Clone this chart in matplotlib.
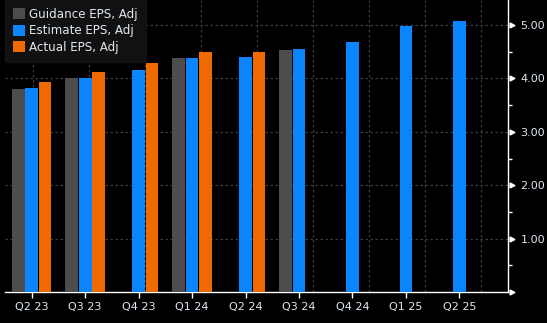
import numpy as np
import matplotlib
matplotlib.use("Agg")
import matplotlib.pyplot as plt

# quarters and EPS series
quarters = ["Q2 23", "Q3 23", "Q4 23", "Q1 24", "Q2 24", "Q3 24", "Q4 24", "Q1 25", "Q2 25"]
guidance = [3.80, 4.00, np.nan, 4.38, np.nan, 4.53, np.nan, np.nan, np.nan]
estimate = [3.82, 4.00, 4.15, 4.38, 4.40, 4.55, 4.68, 4.99, 5.08]
actual = [3.93, 4.12, 4.29, 4.50, 4.50, np.nan, np.nan, np.nan, np.nan]

c_guid = "#4d4d4d"
c_est = "#0a84ff"
c_act = "#f06a00"
txt = "#dfe8f2"

fig = plt.figure(figsize=(5.47, 3.23), dpi=100, facecolor="black")
ax = fig.add_axes([5 / 547, 31 / 323, 503 / 547, 292 / 323], facecolor="black")

x = np.arange(len(quarters))
w = 0.238
off = 0.25
ax.bar(x - off, guidance, width=w, color=c_guid, label="Guidance EPS, Adj", zorder=3)
ax.bar(x, estimate, width=w, color=c_est, label="Estimate EPS, Adj", zorder=3)
ax.bar(x + off, actual, width=w, color=c_act, label="Actual EPS, Adj", zorder=3)

ax.set_xlim(-0.5, 8.91)
ax.set_ylim(0, 5.47)

# x axis
ax.set_xticks(x)
ax.set_xticklabels(quarters, fontsize=8, color=txt)
ax.tick_params(axis="x", which="major", colors="white", length=4, width=1, pad=3, labelcolor=txt)
# vertical dashed grid (not aligned to the categories in the original)
ax.set_xticks(np.arange(9) * 1.047 + 0.02, minor=True)
ax.tick_params(axis="x", which="minor", length=0)
ax.grid(which="minor", axis="x", color="#3c3c3c", linestyle=(0, (2, 2)), linewidth=0.9, zorder=0)

# y axis on right
ax.yaxis.tick_right()
ax.set_yticks([1, 2, 3, 4, 5])
ax.set_yticklabels(["1.00", "2.00", "3.00", "4.00", "5.00"], fontsize=8, color=txt)
ax.set_yticks(np.arange(0.5, 5.5, 1.0), minor=True)
ax.tick_params(axis="y", which="major", length=0, pad=9, labelcolor=txt)
ax.tick_params(axis="y", which="minor", colors="white", length=3, width=1, right=True, left=False)
ax.grid(which="major", axis="y", color="#3c3c3c", linestyle=(0, (2, 2)), linewidth=0.9, zorder=0)

# small triangle markers at the major y ticks
ax.plot([1.008] * 6, [0, 1, 2, 3, 4, 5], marker=">", ls="none", color="white", ms=3.5,
        transform=ax.get_yaxis_transform(), clip_on=False)

for s in ["left", "top"]:
    ax.spines[s].set_visible(False)
ax.spines["right"].set_color("white")
ax.spines["bottom"].set_color("white")
ax.spines["right"].set_linewidth(1)
ax.spines["bottom"].set_linewidth(1)

leg = ax.legend(loc="upper left", bbox_to_anchor=(0, 1), borderaxespad=0, fontsize=8.6,
                frameon=True, facecolor="#111111", edgecolor="#111111", framealpha=1,
                handlelength=1.0, handleheight=1.0, handletextpad=0.4, labelspacing=0.3,
                borderpad=0.65, fancybox=False)
for t in leg.get_texts():
    t.set_color(txt)

fig.savefig("out.png", dpi=100, facecolor="black")
